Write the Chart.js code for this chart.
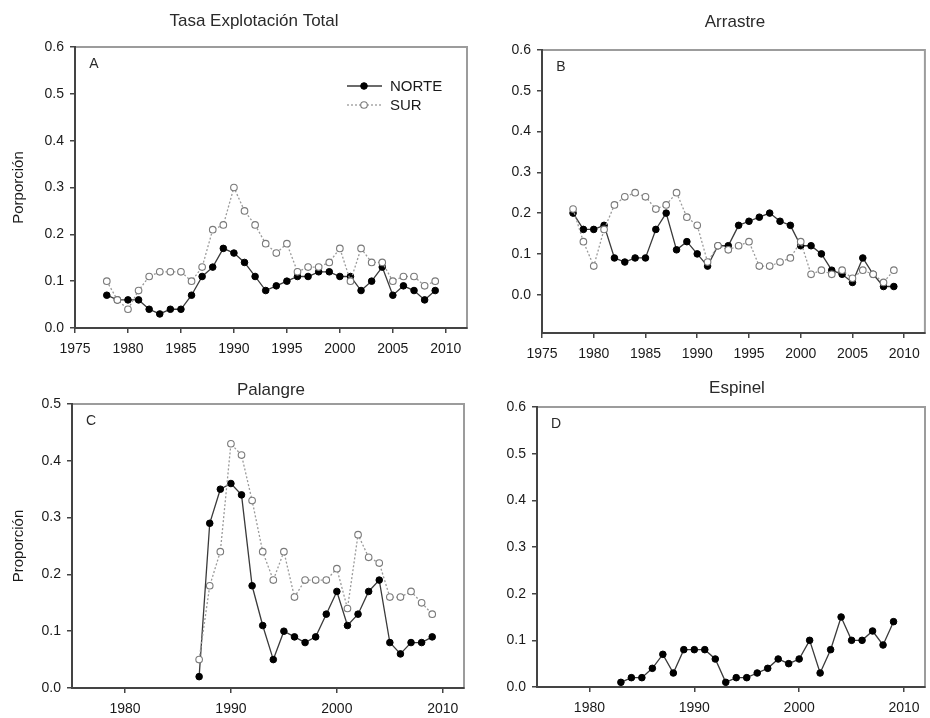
<!DOCTYPE html>
<html>
<head>
<meta charset="utf-8">
<script src="https://cdn.jsdelivr.net/npm/chart.js@4.4.1/dist/chart.umd.min.js"></script>
<style>
  body { margin: 0; background: #fff; }
  #wrap { position: relative; width: 930px; height: 718px; overflow: hidden; }
  canvas { position: absolute; }
</style>
</head>
<body>
<div id="wrap">
  <canvas id="cA" width="480" height="360" style="left:0;top:0"></canvas>
  <canvas id="cB" width="450" height="360" style="left:480px;top:0"></canvas>
  <canvas id="cC" width="480" height="363" style="left:0;top:355px"></canvas>
  <canvas id="cD" width="450" height="363" style="left:480px;top:355px"></canvas>
</div>
<script>
// years and values
const years7809 = [1978,1979,1980,1981,1982,1983,1984,1985,1986,1987,1988,1989,1990,1991,1992,1993,
                   1994,1995,1996,1997,1998,1999,2000,2001,2002,2003,2004,2005,2006,2007,2008,2009];
const years8709 = [1987,1988,1989,1990,1991,1992,1993,1994,1995,1996,1997,1998,1999,2000,2001,2002,
                   2003,2004,2005,2006,2007,2008,2009];
const years8309 = [1983,1984,1985,1986,1987,1988,1989,1990,1991,1992,1993,1994,1995,1996,1997,1998,
                   1999,2000,2001,2002,2003,2004,2005,2006,2007,2008,2009];

// A - Tasa Explotacion Total
const totalNorte = [0.07,0.06,0.06,0.06,0.04,0.03,0.04,0.04,0.07,0.11,0.13,0.17,0.16,0.14,0.11,0.08,
                    0.09,0.10,0.11,0.11,0.12,0.12,0.11,0.11,0.08,0.10,0.13,0.07,0.09,0.08,0.06,0.08];
const totalSur   = [0.10,0.06,0.04,0.08,0.11,0.12,0.12,0.12,0.10,0.13,0.21,0.22,0.30,0.25,0.22,0.18,
                    0.16,0.18,0.12,0.13,0.13,0.14,0.17,0.10,0.17,0.14,0.14,0.10,0.11,0.11,0.09,0.10];
// B - Arrastre
const arrastreNorte = [0.20,0.16,0.16,0.17,0.09,0.08,0.09,0.09,0.16,0.20,0.11,0.13,0.10,0.07,0.12,0.12,
                       0.17,0.18,0.19,0.20,0.18,0.17,0.12,0.12,0.10,0.06,0.05,0.03,0.09,0.05,0.02,0.02];
const arrastreSur   = [0.21,0.13,0.07,0.16,0.22,0.24,0.25,0.24,0.21,0.22,0.25,0.19,0.17,0.08,0.12,0.11,
                       0.12,0.13,0.07,0.07,0.08,0.09,0.13,0.05,0.06,0.05,0.06,0.04,0.06,0.05,0.03,0.06];
// C - Palangre
const palangreNorte = [0.02,0.29,0.35,0.36,0.34,0.18,0.11,0.05,0.10,0.09,0.08,0.09,0.13,0.17,0.11,0.13,
                       0.17,0.19,0.08,0.06,0.08,0.08,0.09];
const palangreSur   = [0.05,0.18,0.24,0.43,0.41,0.33,0.24,0.19,0.24,0.16,0.19,0.19,0.19,0.21,0.14,0.27,
                       0.23,0.22,0.16,0.16,0.17,0.15,0.13];
// D - Espinel
const espinel = [0.01,0.02,0.02,0.04,0.07,0.03,0.08,0.08,0.08,0.06,0.01,0.02,0.02,0.03,0.04,0.06,
                 0.05,0.06,0.10,0.03,0.08,0.15,0.10,0.10,0.12,0.09,0.14];

// tick labels
const xTicks5  = [1975,1980,1985,1990,1995,2000,2005,2010];
const xTicks10 = [1980,1990,2000,2010];
const yTicks06 = [0,0.1,0.2,0.3,0.4,0.5,0.6];
const yTicks05 = [0,0.1,0.2,0.3,0.4,0.5];

Chart.defaults.font.family = '"Liberation Sans", Arial, sans-serif';
Chart.defaults.color = '#1a1a1a';

function pts(xs, ys) {
  return xs.map((x, i) => ({ x: x, y: ys[i] }));
}

function norteSet(label, xs, ys) {
  return {
    label: label, data: pts(xs, ys), order: 1,
    borderColor: '#3a3a3a', borderWidth: 1.3,
    pointBackgroundColor: '#000', pointBorderColor: '#000',
    pointRadius: 3.3, pointBorderWidth: 1
  };
}
function surSet(label, xs, ys) {
  return {
    label: label, data: pts(xs, ys), order: 0,
    borderColor: '#9a9a9a', borderWidth: 1.3, borderDash: [2, 2],
    pointBackgroundColor: '#fff', pointBorderColor: '#7a7a7a',
    pointRadius: 3.3, pointBorderWidth: 1.1
  };
}

// box, titles, panel letter and legend
const panelDeco = {
  id: 'panelDeco',
  beforeDraw(chart, args, o) {
    const a = chart.chartArea, ctx = chart.ctx;
    ctx.save();
    ctx.strokeStyle = '#9c9c9c';
    ctx.lineWidth = 2;
    ctx.strokeRect(a.left, a.top, a.right - a.left, a.bottom - a.top);
    ctx.restore();
  },
  afterDraw(chart, args, o) {
    const a = chart.chartArea, ctx = chart.ctx;
    ctx.save();
    ctx.fillStyle = '#2a2a2a';
    ctx.textAlign = 'center';
    ctx.textBaseline = 'middle';
    ctx.font = '17px "Liberation Sans", Arial, sans-serif';
    ctx.fillText(o.title, o.titleX, o.titleY);
    ctx.font = '14px "Liberation Sans", Arial, sans-serif';
    ctx.fillText(o.letter, a.left + 19, a.top + 17);
    if (o.legend) {
      const sets = chart.data.datasets;
      const rows = [sets[0], sets[1]];
      rows.forEach((ds, i) => {
        const y = a.top + 39 + i * 19;
        const x0 = a.right - 120, x1 = a.right - 85, xm = a.right - 103;
        ctx.strokeStyle = ds.borderColor;
        ctx.lineWidth = ds.borderWidth;
        ctx.setLineDash(ds.borderDash || []);
        ctx.beginPath(); ctx.moveTo(x0, y); ctx.lineTo(x1, y); ctx.stroke();
        ctx.setLineDash([]);
        ctx.beginPath(); ctx.arc(xm, y, ds.pointRadius, 0, Math.PI * 2);
        ctx.fillStyle = ds.pointBackgroundColor; ctx.fill();
        ctx.strokeStyle = ds.pointBorderColor; ctx.lineWidth = ds.pointBorderWidth; ctx.stroke();
        ctx.fillStyle = '#1a1a1a';
        ctx.textAlign = 'left';
        ctx.font = '15px "Liberation Sans", Arial, sans-serif';
        ctx.fillText(ds.label, a.right - 77, y + 1);
      });
    }
    ctx.restore();
  }
};

function makePanel(id, p) {
  new Chart(document.getElementById(id), {
    type: 'line',
    data: { datasets: p.datasets },
    plugins: [panelDeco],
    options: {
      responsive: false,
      animation: false,
      events: [],
      layout: { padding: { left: 0, right: p.padRight, top: p.padTop, bottom: 0 } },
      plugins: {
        legend: { display: false },
        tooltip: { enabled: false },
        panelDeco: p.deco
      },
      scales: {
        x: {
          type: 'linear', min: 1975, max: 2012,
          afterBuildTicks: s => { s.ticks = p.xTicks.map(v => ({ value: v })); },
          afterFit: s => { s.height = p.xHeight; },
          ticks: { font: { size: 14 }, padding: 8, callback: v => String(v) },
          grid: { drawOnChartArea: false, drawTicks: true, tickLength: 5, color: '#444', lineWidth: 1.5 },
          border: { display: true, color: '#444', width: 2 }
        },
        y: {
          min: p.yMin, max: p.yMax,
          afterBuildTicks: s => { s.ticks = p.yTicks.map(v => ({ value: v })); },
          afterFit: s => { s.width = p.yWidth; },
          ticks: { font: { size: 14 }, padding: 6, callback: v => v.toFixed(1) },
          grid: { drawOnChartArea: false, drawTicks: true, tickLength: 5, color: '#444', lineWidth: 1.5 },
          border: { display: true, color: '#444', width: 2 },
          title: {
            display: !!p.yTitle, text: p.yTitle || '',
            font: { size: 15 }, color: '#1a1a1a', padding: { top: 10, bottom: 0 }
          }
        }
      },
      elements: { line: { tension: 0, fill: false } }
    }
  });
}

makePanel('cA', {
  datasets: [norteSet('NORTE', years7809, totalNorte), surSet('SUR', years7809, totalSur)],
  xTicks: xTicks5, yTicks: yTicks06, yMin: 0, yMax: 0.6,
  yWidth: 75, padRight: 13, padTop: 47, xHeight: 32,
  yTitle: 'Porporción',
  deco: { title: 'Tasa Explotación Total', titleX: 254, titleY: 21, letter: 'A', legend: true }
});

makePanel('cB', {
  datasets: [norteSet('NORTE', years7809, arrastreNorte), surSet('SUR', years7809, arrastreSur)],
  xTicks: xTicks5, yTicks: yTicks06, yMin: -0.094, yMax: 0.6,
  yWidth: 62, padRight: 2, padTop: 50, xHeight: 27,
  deco: { title: 'Arrastre', titleX: 255, titleY: 22, letter: 'B', legend: false }
});

makePanel('cC', {
  datasets: [norteSet('NORTE', years8709, palangreNorte), surSet('SUR', years8709, palangreSur)],
  xTicks: xTicks10, yTicks: yTicks05, yMin: 0, yMax: 0.5,
  yWidth: 72, padRight: 16, padTop: 49, xHeight: 30,
  yTitle: 'Proporción',
  deco: { title: 'Palangre', titleX: 271, titleY: 35, letter: 'C', legend: false }
});

makePanel('cD', {
  datasets: [norteSet('NORTE', years8309, espinel)],
  xTicks: xTicks10, yTicks: yTicks06, yMin: 0, yMax: 0.6,
  yWidth: 57, padRight: 2, padTop: 52, xHeight: 31,
  deco: { title: 'Espinel', titleX: 257, titleY: 33, letter: 'D', legend: false }
});
</script>
</body>
</html>
